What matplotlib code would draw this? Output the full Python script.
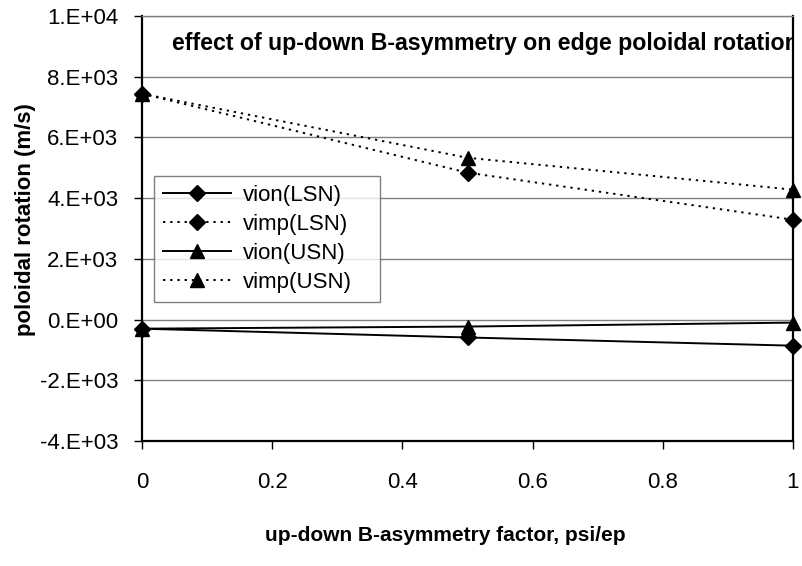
import matplotlib
matplotlib.use("Agg")
import matplotlib.pyplot as plt

plt.rcParams['font.family'] = ['Liberation Sans', 'DejaVu Sans']

x = [0, 0.5, 1]
vion_lsn = [-300, -590, -860]
vimp_lsn = [7440, 4840, 3290]
vion_usn = [-300, -230, -100]
vimp_usn = [7440, 5330, 4280]
labels = ['vion(LSN)', 'vimp(LSN)', 'vion(USN)', 'vimp(USN)']

yticks = [-4000, -2000, 0, 2000, 4000, 6000, 8000, 10000]
ytick_labels = ['-4.E+03', '-2.E+03', '0.E+00', '2.E+03', '4.E+03', '6.E+03', '8.E+03', '1.E+04']
xticks = [0, 0.2, 0.4, 0.6, 0.8, 1]
xtick_labels = ['0', '0.2', '0.4', '0.6', '0.8', '1']

fig = plt.figure(figsize=(8.02, 5.66), dpi=100)
ax = fig.add_axes([142/802, 1 - 441/566, (793-142)/802, (441-16)/566])

dot = (0, (1.2, 2.5))
ax.plot(x, vion_lsn, color='black', lw=1.4, marker='D', ms=8, label=labels[0], clip_on=False)
ax.plot(x, vimp_lsn, color='black', lw=1.4, ls=dot, marker='D', ms=8, label=labels[1], clip_on=False)
ax.plot(x, vion_usn, color='black', lw=1.4, marker='^', ms=10, label=labels[2], clip_on=False)
ax.plot(x, vimp_usn, color='black', lw=1.4, ls=dot, marker='^', ms=10, label=labels[3], clip_on=False)

ax.set_xlim(0, 1)
ax.set_ylim(-4000, 10000)
ax.set_yticks(yticks)
ax.set_yticklabels(ytick_labels)
ax.set_xticks(xticks)
ax.set_xticklabels(xtick_labels)
ax.tick_params(axis='both', labelsize=16, direction='out', length=6, width=1, color='black')
ax.tick_params(axis='y', pad=11)
ax.tick_params(axis='x', pad=16)

ax.yaxis.grid(True, color='#808080', lw=1)
ax.set_axisbelow(True)
for s in ['left', 'right', 'bottom']:
    ax.spines[s].set_color('black')
    ax.spines[s].set_linewidth(1.6)
ax.spines['top'].set_color('#808080')
ax.spines['top'].set_linewidth(1)

ax.set_ylabel('poloidal rotation (m/s)', fontsize=16, fontweight='bold')
ax.yaxis.set_label_coords(-0.163, 0.52)
ax.set_xlabel('up-down B-asymmetry factor, psi/ep', fontsize=15, fontweight='bold')
ax.xaxis.set_label_coords(0.466, -0.2)

ax.text(0.046, 0.935, 'effect of up-down B-asymmetry on edge poloidal rotation',
        transform=ax.transAxes, fontsize=16.7, fontweight='bold', va='center', ha='left',
        clip_on=True)

leg = ax.legend(loc='upper left', bbox_to_anchor=(0.018, 0.2, 0.3476, 0.424), mode='expand',
                fontsize=16, frameon=True, fancybox=False, edgecolor='#606060',
                handlelength=3.1, borderpad=0.4, labelspacing=0.36, handletextpad=0.5,
                borderaxespad=0)
leg.get_frame().set_linewidth(1)

fig.savefig('out.png', dpi=100)
